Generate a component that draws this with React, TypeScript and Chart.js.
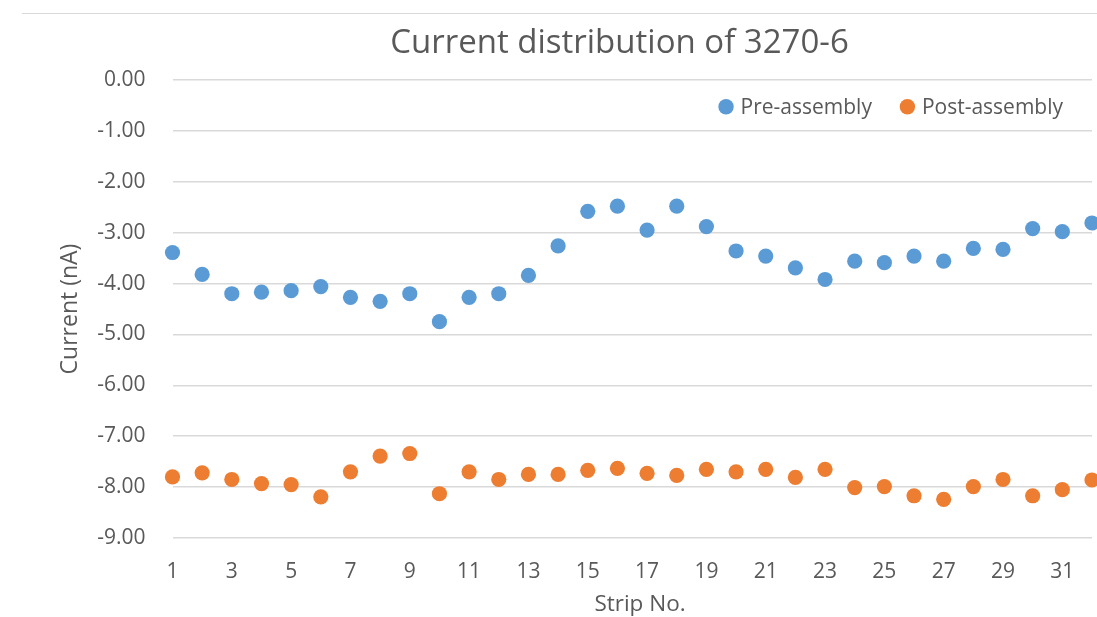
import { useEffect, useRef } from "react";
import { Chart, registerables } from "chart.js";

Chart.register(...registerables);

const strips = ["1", "2", "3", "4", "5", "6", "7", "8", "9", "10", "11", "12", "13", "14", "15", "16", "17", "18", "19", "20", "21", "22", "23", "24", "25", "26", "27", "28", "29", "30", "31", "32"];

const preAssembly = [-3.39, -3.82, -4.2, -4.17, -4.14, -4.06, -4.27, -4.35, -4.2, -4.75, -4.27, -4.2, -3.84, -3.26, -2.58, -2.48, -2.95, -2.48, -2.88, -3.36, -3.46, -3.69, -3.92, -3.56, -3.59, -3.46, -3.56, -3.31, -3.33, -2.92, -2.98, -2.81];

const postAssembly = [-7.8, -7.72, -7.85, -7.93, -7.95, -8.19, -7.7, -7.39, -7.34, -8.13, -7.7, -7.85, -7.75, -7.75, -7.67, -7.63, -7.73, -7.77, -7.65, -7.7, -7.65, -7.81, -7.65, -8.01, -7.99, -8.17, -8.24, -7.99, -7.85, -8.17, -8.05, -7.86];

const yMin = -9;
const yMax = 0;
const yStep = 1;

const TEXT = "#595959";
const GRID = "#d9d9d9";
const BLUE = "#5B9BD5";
const ORANGE = "#ED7D31";
const FONT = "'Open Sans'";

const insideLegend = {
  id: "insideLegend",
  afterDraw(chart: any) {
    const { ctx, chartArea } = chart;
    ctx.save();
    ctx.font = `21px ${FONT}`;
    ctx.textBaseline = "middle";
    ctx.textAlign = "left";
    let x = chartArea.right - 29;
    const yText = chartArea.top + 28;
    const yMark = chartArea.top + 26.7;
    const ds = chart.data.datasets;
    for (let i = ds.length - 1; i >= 0; i--) {
      const text = ds[i].label as string;
      const w = ctx.measureText(text).width;
      const tx = x - w;
      ctx.fillStyle = TEXT;
      ctx.fillText(text, tx, yText);
      ctx.beginPath();
      ctx.arc(tx - 14.5, yMark, 7.7, 0, Math.PI * 2);
      ctx.fillStyle = ds[i].backgroundColor;
      ctx.fill();
      x = tx - 14.5 - 35.5;
    }
    ctx.restore();
  },
};

export default function App() {
  const ref = useRef<HTMLCanvasElement | null>(null);

  useEffect(() => {
    if (!ref.current) return;
    const chart = new Chart(ref.current, {
      type: "line",
      data: {
        labels: strips,
        datasets: [
          {
            label: "Pre-assembly",
            data: preAssembly,
            showLine: false,
            backgroundColor: BLUE,
            borderColor: BLUE,
            pointRadius: 7.6,
            pointBorderWidth: 0,
            pointHoverRadius: 7.6,
            clip: false as any,
          },
          {
            label: "Post-assembly",
            data: postAssembly,
            showLine: false,
            backgroundColor: ORANGE,
            borderColor: ORANGE,
            pointRadius: 7.6,
            pointBorderWidth: 0,
            pointHoverRadius: 7.6,
            clip: false as any,
          },
        ],
      },
      options: {
        animation: false,
        responsive: false,
        maintainAspectRatio: false,
        layout: { autoPadding: false, padding: { top: 80, right: 5, bottom: 0, left: 0 } },
        plugins: {
          legend: { display: false },
          title: { display: false },
          tooltip: { enabled: false },
        },
        scales: {
          x: {
            type: "category",
            offset: false,
            grid: { display: false, drawTicks: false },
            border: { display: false },
            ticks: {
              autoSkip: false,
              maxRotation: 0,
              padding: 21,
              color: TEXT,
              font: { family: FONT, size: 21 },
              callback: function (this: any, val: any, idx: number) {
                return idx % 2 === 0 ? this.getLabelForValue(val) : "";
              },
            },
            title: { display: false },
            afterFit: (s: any) => {
              s.height = 79;
              s.paddingLeft = 0;
              s.paddingRight = 0;
            },
          },
          y: {
            min: yMin,
            max: yMax,
            grid: { color: GRID, lineWidth: 1.5, drawTicks: false },
            border: { display: false },
            ticks: {
              stepSize: yStep,
              padding: 27,
              color: TEXT,
              font: { family: FONT, size: 21 },
              callback: (v: any) => Number(v).toFixed(2),
            },
            title: {
              display: true,
              text: "Current (nA)",
              color: TEXT,
              font: { family: FONT, size: 23, lineHeight: 1 },
              padding: { top: 58.5, bottom: 0 },
            },
            afterFit: (s: any) => {
              s.width = 172.5;
            },
          },
        },
      },
      plugins: [insideLegend],
    });
    return () => chart.destroy();
  }, []);

  return (
    <div
      style={{
        position: "fixed",
        left: 0,
        top: 0,
        width: 1097,
        height: 617,
        overflow: "hidden",
        background: "#fff",
      }}
    >
      <div
        style={{
          position: "absolute",
          left: 22,
          right: 0,
          top: 13,
          borderTop: `1.5px solid ${GRID}`,
        }}
      />
      <div
        style={{
          position: "absolute",
          left: 619.5,
          top: 24,
          transform: "translateX(-50%)",
          whiteSpace: "nowrap",
          fontFamily: FONT,
          fontSize: 33,
          lineHeight: "33px",
          color: TEXT,
        }}
      >
        Current distribution of 3270-6
      </div>
      <canvas ref={ref} width={1097} height={617} style={{ display: "block" }} />
      <div
        style={{
          position: "absolute",
          left: 640,
          top: 592.2,
          transform: "translateX(-50%)",
          whiteSpace: "nowrap",
          fontFamily: FONT,
          fontSize: 22.5,
          lineHeight: "22.5px",
          color: TEXT,
        }}
      >
        Strip No.
      </div>
    </div>
  );
}
